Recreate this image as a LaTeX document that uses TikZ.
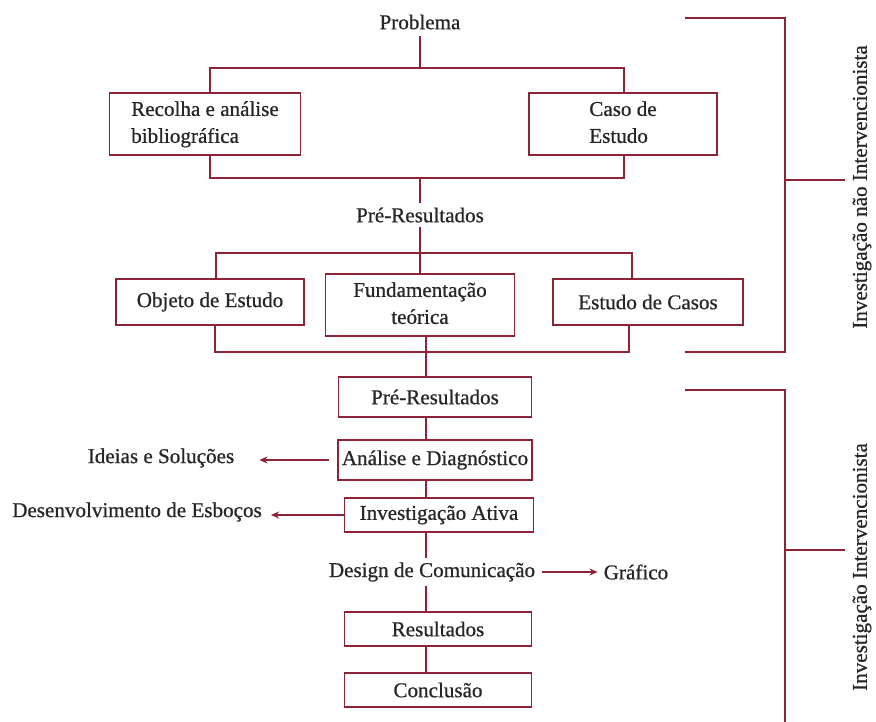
\documentclass[tikz,border=0pt]{standalone}
\usepackage{fontspec}
\setmainfont{Liberation Serif}[FakeBold=0.7]
\usetikzlibrary{arrows.meta}
\definecolor{wine}{RGB}{140,35,55}
\newlength{\px}
\setlength{\px}{0.3mm}

\begin{document}
\begin{tikzpicture}[x=0.3mm, y=-0.3mm,
    every node/.style={font=\fontsize{18}{23}\selectfont, text=black!85},
    box/.style={draw=wine, line width=1.3pt},
    link/.style={wine, line width=1.1pt},
    arrow/.style={link, -{Stealth[length=7pt, width=6pt]}}]
\useasboundingbox (0,0) rectangle (876,722);

\node (problema) at (420,22) {Problema};

\node[box, minimum width=191\px, minimum height=62\px] (recolha) at (205,124) {\begin{tabular}{l}
Recolha e análise \\
bibliográfica
\end{tabular}};

\node[box, minimum width=188\px, minimum height=62\px] (caso de estudo) at (623,124) {\begin{tabular}{l}
Caso de \\
Estudo
\end{tabular}};

\coordinate (split top) at (420,68);
\coordinate (split top left) at (210,68);
\coordinate (split top right) at (624,68);
\draw[link, shorten <=2pt] (problema) -- (split top);
\draw[link] (recolha.north -| split top left) -- (split top left) -- (split top right) -- (caso de estudo.north -| split top right);

\coordinate (join top) at (420,178);
\coordinate (join top left) at (210,178);
\coordinate (join top right) at (624,178);
\draw[link] (recolha.south -| join top left) -- (join top left) -- (join top right) -- (caso de estudo.south -| join top right);

\node (pre resultados one) at (420,215) {Pré-Resultados};
\draw[link] (join top) -- (pre resultados one);

\node[box, minimum width=188\px, minimum height=46\px] (objeto) at (210,302) {Objeto de Estudo};
\node[box, minimum width=189\px, minimum height=46\px] (fundamentacao) at (420,305) {\begin{tabular}{c}
Fundamentação \\
teórica
\end{tabular}};
\node[box, minimum width=190\px, minimum height=46\px] (estudo de casos) at (648,302) {Estudo de Casos};

\coordinate (split mid) at (420,253);
\coordinate (split mid left) at (216,253);
\coordinate (split mid right) at (632,253);
\draw[link] (pre resultados one) -- (split mid) -- (fundamentacao.north);
\draw[link] (objeto.north -| split mid left) -- (split mid left) -- (split mid right) -- (estudo de casos.north -| split mid right);

\coordinate (join mid) at (426,352);
\coordinate (join mid left) at (215,352);
\coordinate (join mid right) at (629,352);
\draw[link] (objeto.south -| join mid left) -- (join mid left) -- (join mid right) -- (estudo de casos.south -| join mid right);

% intervencionista
\coordinate (spine) at (426,0);
\node[box, minimum width=193\px, minimum height=40\px] (pre resultados two) at (435,397) {Pré-Resultados};
\node[box, minimum width=193\px, minimum height=40\px] (analise) at (435,460) {Análise e Diagnóstico};
\node[box, minimum width=189\px, minimum height=34\px] (investigacao) at (439,515) {Investigação Ativa};
\node (design) at (432,572) {Design de Comunicação};
\node[box, minimum width=187\px, minimum height=34\px] (resultados) at (438,629) {Resultados};
\node[box, minimum width=187\px, minimum height=34\px] (conclusao) at (438,690) {Conclusão};

\draw[link] (fundamentacao.south -| spine) -- (pre resultados two.north -| spine);
\draw[link] (pre resultados two.south -| spine) -- (analise.north -| spine);
\draw[link] (analise.south -| spine) -- (investigacao.north -| spine);
\draw[link] (investigacao.south -| spine) -- (design.north -| spine);
\draw[link] (design.south -| spine) -- (resultados.north -| spine);
\draw[link] (resultados.south -| spine) -- (conclusao.north -| spine);

\node (ideias) at (161,458) {Ideias e Soluções};
\node (esbocos) at (137,512) {Desenvolvimento de Esboços};
\node (grafico) at (636,572) {Gráfico};

\draw[arrow, shorten <=8\px, shorten >=21\px] (analise.west) -- (analise.west -| ideias.east);
\draw[arrow, shorten >=5\px] (investigacao.west) -- (investigacao.west -| esbocos.east);
\draw[arrow, shorten <=3\px, shorten >=2\px] (design.east) -- (grafico.west);

% brackets
\node[rotate=90] (nao intervencionista) at (862,187) {Investigação não Intervencionista};
\node[rotate=90] (intervencionista) at (862,567) {Investigação Intervencionista};

\coordinate (upper start) at (685,18);
\coordinate (upper corner) at (785,18);
\coordinate (upper end) at (685,352);
\coordinate (upper tick) at (845,180);
\draw[link] (upper start) -- (upper corner) -- (upper corner |- upper end) -- (upper end);
\draw[link] (upper tick -| upper corner) -- (upper tick);

\coordinate (lower start) at (685,390);
\coordinate (lower corner) at (785,390);
\coordinate (lower end) at (785,722);
\coordinate (lower tick) at (845,550);
\draw[link] (lower start) -- (lower corner) -- (lower end);
\draw[link] (lower tick -| lower corner) -- (lower tick);
\end{tikzpicture}
\end{document}
